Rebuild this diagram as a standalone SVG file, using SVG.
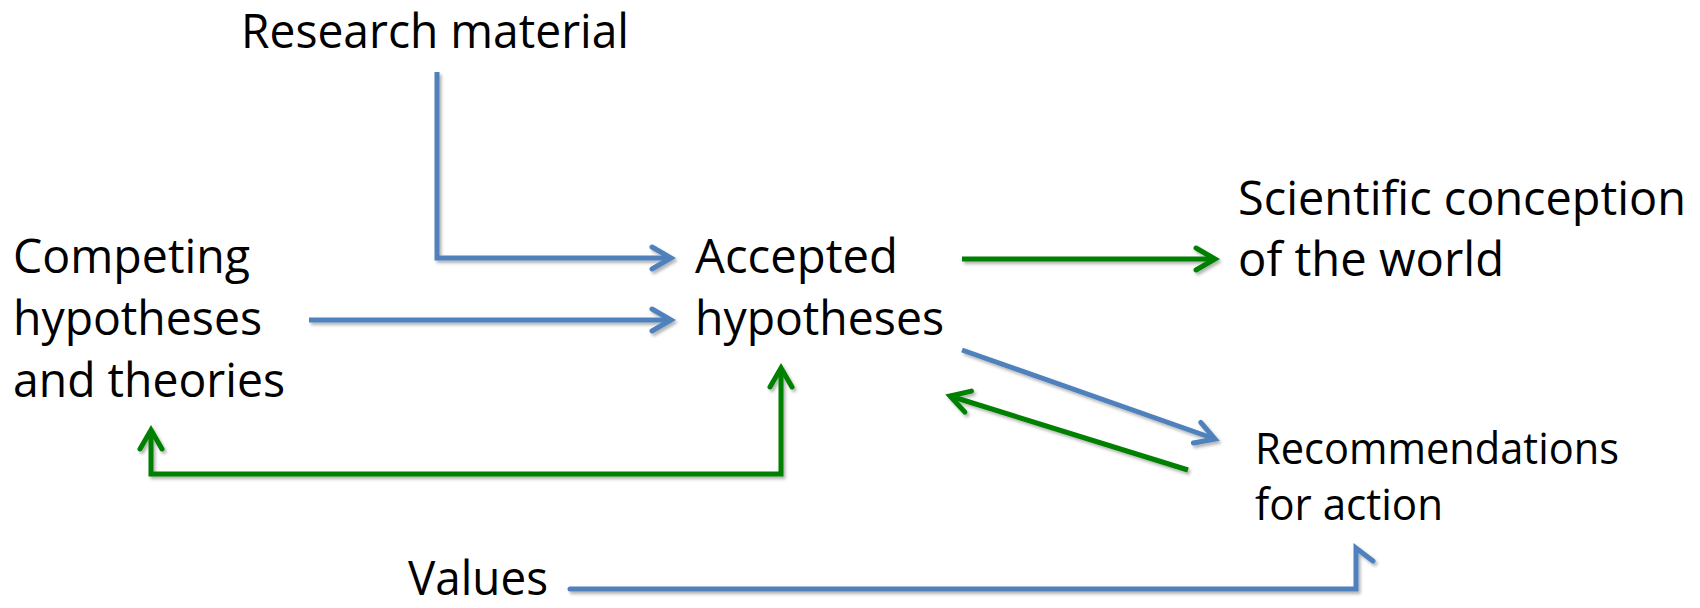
<svg xmlns="http://www.w3.org/2000/svg" width="1700" height="608" viewBox="0 0 1700 608">
  <style>
    .t { font-family: "Open Sans", "Noto Sans", sans-serif; font-size: 47px; fill: #000; }
    .s { font-size: 43px; }
    .ln { fill: none; stroke-width: 5; stroke-linejoin: miter; filter: url(#sh); }
    .blue { stroke: #4F81BD; }
    .green { stroke: #008000; }
  </style>
  <defs>
    <filter id="sh" x="-5%" y="-5%" width="110%" height="110%" filterUnits="userSpaceOnUse">
      <feDropShadow dx="2" dy="2.5" stdDeviation="1.5" flood-color="#000" flood-opacity="0.3"/>
    </filter>
    <marker id="ab" markerUnits="userSpaceOnUse" markerWidth="40" markerHeight="40" refX="0" refY="0" orient="auto" overflow="visible">
      <path d="M-19,-11 L0,0 L-19,11" fill="none" stroke="#4F81BD" stroke-width="5" stroke-linecap="round" stroke-linejoin="miter"/>
    </marker>
    <marker id="ag" markerUnits="userSpaceOnUse" markerWidth="40" markerHeight="40" refX="0" refY="0" orient="auto-start-reverse" overflow="visible">
      <path d="M-19,-11 L0,0 L-19,11" fill="none" stroke="#008000" stroke-width="5" stroke-linecap="round" stroke-linejoin="miter"/>
    </marker>
  </defs>
  <rect width="1700" height="608" fill="#fff"/>

  <g id="connectors">
    <path class="ln blue" d="M437 72 V258 H671" marker-end="url(#ab)"/>
    <path class="ln blue" d="M309 320 H671" marker-end="url(#ab)"/>
    <path class="ln green" d="M962 259 H1215" marker-end="url(#ag)"/>
    <path class="ln blue" d="M962 350 L1215 439" marker-end="url(#ab)"/>
    <path class="ln green" d="M1188 470 L950 396" marker-end="url(#ag)"/>
    <path class="ln green" d="M151 430 V474 H781 V368" marker-start="url(#ag)" marker-end="url(#ag)"/>
    <path class="ln blue" d="M570 589 H1356 V548 L1373 561" stroke-linecap="round"/>
  </g>

  <g id="research-material">
    <text class="t" x="241" y="48" textLength="388" lengthAdjust="spacingAndGlyphs">Research material</text>
  </g>
  <g id="competing-hypotheses">
    <text class="t" x="13" y="273" textLength="237" lengthAdjust="spacingAndGlyphs">Competing</text>
    <text class="t" x="13" y="335" textLength="249" lengthAdjust="spacingAndGlyphs">hypotheses</text>
    <text class="t" x="13" y="397" textLength="272" lengthAdjust="spacingAndGlyphs">and theories</text>
  </g>
  <g id="accepted-hypotheses">
    <text class="t" x="695" y="273" textLength="203" lengthAdjust="spacingAndGlyphs">Accepted</text>
    <text class="t" x="695" y="335" textLength="249" lengthAdjust="spacingAndGlyphs">hypotheses</text>
  </g>
  <g id="scientific-conception">
    <text class="t" x="1238" y="215" textLength="448" lengthAdjust="spacingAndGlyphs">Scientific conception</text>
    <text class="t" x="1238" y="276" textLength="266" lengthAdjust="spacingAndGlyphs">of the world</text>
  </g>
  <g id="recommendations">
    <text class="t s" x="1255" y="464" textLength="364" lengthAdjust="spacingAndGlyphs">Recommendations</text>
    <text class="t s" x="1255" y="520" textLength="188" lengthAdjust="spacingAndGlyphs">for action</text>
  </g>
  <g id="values">
    <text class="t" x="408" y="595" textLength="140" lengthAdjust="spacingAndGlyphs">Values</text>
  </g>
</svg>
